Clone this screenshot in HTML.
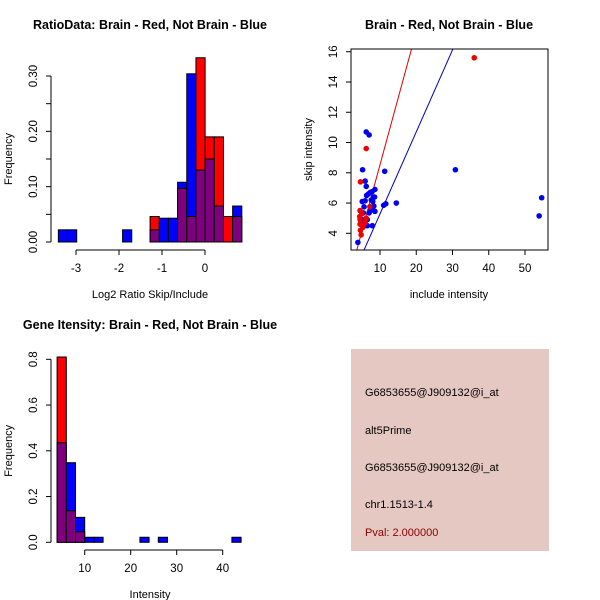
<!DOCTYPE html>
<html><head><meta charset="utf-8"><style>
html,body{margin:0;padding:0;background:#fff;}
svg{display:block;font-family:"Liberation Sans",Arial,sans-serif;}
</style></head><body>
<svg id="c" width="600" height="600" viewBox="0 0 600 600" xmlns="http://www.w3.org/2000/svg">
<rect x="0" y="0" width="600" height="600" fill="#fff"/>
<g id="p1"></g>
<g id="p2"></g>
<g id="p3"></g>
<g>
<rect x="351" y="349" width="198" height="202" fill="#e6c8c2"/>
<text x="365" y="396" font-size="11" fill="#000">G6853655@J909132@i_at</text>
<text x="365" y="434" font-size="11" fill="#000">alt5Prime</text>
<text x="365" y="471" font-size="11" fill="#000">G6853655@J909132@i_at</text>
<text x="365" y="508" font-size="11" fill="#000">chr1.1513-1.4</text>
<text x="365" y="536" font-size="11" fill="#8b0000">Pval: 2.000000</text>
</g>
</svg>
<script>
// Panel 1 data
const ratioBreakStart = -3.41, ratioBinWidth = 0.2133;
const ratioRed  = [0,0,0,0,0,0,0,0,0,0,0.046,0,0,0.097,0.046,0.333,0.19,0.19,0.046,0.046];
const ratioBlue = [0.022,0.022,0,0,0,0,0,0.022,0,0,0.022,0.043,0.043,0.108,0.304,0.13,0.15,0.065,0,0.065];
const ratioYTicks = [0,0.05,0.10,0.15,0.20,0.25,0.30];
const ratioYLabels = ["0.00","","0.10","","0.20","","0.30"];
const ratioXTicks = [-3,-2,-1,0];
// Panel 2 data
const redInclude = [36,6.2,4.6,4.5,4.4,4.5,4.6,4.8,4.5,6.2,5.9,7.2,5.0,5.3];
const redSkip    = [15.6,9.6,7.4,5.5,5.1,4.6,4.2,3.9,4.9,5.0,4.7,5.76,5.3,4.4];
const blueInclude = [3.9,6.2,7.0,5.2,11.3,30.8,14.5,11.6,11.0,54.6,53.9,7.9,6.5,5.9,6.2,8.6,8.5,5.1,5.9,5.6,6.3,6.8,7.3,7.8,7.6,8.0,8.3,7.5,8.6,7.0,5.4,5.1,6.5,5.2,7.9,8.2];
const blueSkip    = [3.4,10.7,10.5,8.2,8.1,8.2,6.0,5.95,5.85,6.35,5.15,4.5,4.5,7.45,7.1,6.9,6.4,6.1,6.15,5.75,6.5,6.6,6.7,6.75,6.2,6.1,5.8,5.55,5.45,5.35,5.35,4.9,4.9,4.6,5.55,6.4];
const redLine = [-0.27, 0.88];   // intercept, slope
const blueLine = [-0.14, 0.542];
const scatXTicks = [10,20,30,40,50];
const scatYTicks = [4,6,8,10,12,14,16];
// Panel 3 data
const geneBreakStart = 4, geneBinWidth = 2;
const geneRed  = [0.81,0.138,0.046,0,0,0,0,0,0,0,0,0,0,0,0,0,0,0,0,0];
const geneBlue = [0.435,0.348,0.109,0.022,0.022,0,0,0,0,0.022,0,0.022,0,0,0,0,0,0,0,0.022];
const geneYTicks = [0,0.2,0.4,0.6,0.8];
const geneYLabels = ["0.0","0.2","0.4","0.6","0.8"];
const geneXTicks = [10,20,30,40];

const NS="http://www.w3.org/2000/svg";
function mk(parent,tag,attrs,text){const e=document.createElementNS(NS,tag);for(const k in attrs)e.setAttribute(k,attrs[k]);if(text!==undefined)e.textContent=text;parent.appendChild(e);return e;}

function histogram(g, breakStart, bw, red, blue, xs, ys, yT, yL, xT, xAxisY, yAxisX, title, titleY, xlab, xlabY){
  const base=ys(0);
  for(let i=0;i<red.length;i++){
    const x0=xs(breakStart+i*bw), x1=xs(breakStart+(i+1)*bw);
    const r=red[i], b=blue[i];
    const lo=Math.min(r,b), hi=Math.max(r,b);
    if(hi>0){
      const col = r>b ? "#ff0000" : "#0000ff";
      const el=mk(g,"rect",{x:x0,y:ys(hi),width:x1-x0,height:base-ys(hi),fill:col,stroke:"#000","stroke-width":1});
      
      
    }
    if(lo>0){
      const el=mk(g,"rect",{x:x0,y:ys(lo),width:x1-x0,height:base-ys(lo),fill:"#7f007f",stroke:"#000","stroke-width":1});
      
      
    }
  }
  const ya=mk(g,"line",{x1:yAxisX,x2:yAxisX,y1:ys(yT[0]),y2:ys(yT[yT.length-1]),stroke:"#000"});
  
  
  yT.forEach((t,i)=>{
    mk(g,"line",{x1:yAxisX-5,x2:yAxisX,y1:ys(t),y2:ys(t),stroke:"#000"});
    if(yL[i]){const tx=mk(g,"text",{x:0,y:0,"font-size":11.5,"text-anchor":"middle",transform:`translate(${yAxisX-14},${ys(t)}) rotate(-90)`},yL[i]);
      
      }
  });
  const xa=mk(g,"line",{x1:xs(xT[0]),x2:xs(xT[xT.length-1]),y1:xAxisY,y2:xAxisY,stroke:"#000"});
  
  
  xT.forEach(t=>{
    mk(g,"line",{x1:xs(t),x2:xs(t),y1:xAxisY,y2:xAxisY+5,stroke:"#000"});
    const tx=mk(g,"text",{x:xs(t),y:xAxisY+22,"font-size":11.5,"text-anchor":"middle"},String(t));
    
    
  });
  const tt=mk(g,"text",{x:150,y:titleY,"font-size":12.5,"font-weight":"bold","text-anchor":"middle"},title);
  
  
  const xl=mk(g,"text",{x:150,y:xlabY,"font-size":11,"text-anchor":"middle"},xlab);
  
  
  const yl=mk(g,"text",{x:0,y:0,"font-size":11,"text-anchor":"middle",transform:`translate(12,${(ys(yT[0])+ys(yT[yT.length-1]))/2}) rotate(-90)`},"Frequency");
  
  
}

// Panel 1
(function(){
  const g=document.getElementById('p1');
  const xs=v=>205+v*43, ys=v=>242-v*553.3;
  histogram(g,ratioBreakStart,ratioBinWidth,ratioRed,ratioBlue,xs,ys,ratioYTicks,ratioYLabels,ratioXTicks,250,51,"RatioData: Brain - Red, Not Brain - Blue",29,"Log2 Ratio Skip/Include",298);
})();
// Panel 3
(function(){
  const g=document.getElementById('p3');
  const xs=v=>84.7+(v-10)*4.6, ys=v=>542.3-v*228.75;
  histogram(g,geneBreakStart,geneBinWidth,geneRed,geneBlue,xs,ys,geneYTicks,geneYLabels,geneXTicks,550,51,"Gene Itensity: Brain - Red, Not Brain - Blue",329,"Intensity",598);
})();
// Panel 2
(function(){
  const g=document.getElementById('p2');
  const xs=v=>380+(v-10)*3.625, ys=v=>233.3-(v-4)*15.13;
  const L=351,R=548,T=49,B=250;
  const cp=mk(g,"clipPath",{id:"clip2"});mk(cp,"rect",{x:L,y:T,width:R-L,height:B-T});
  const lg=mk(g,"g",{"clip-path":"url(#clip2)"});
  const ln=(c,col,name)=>{const x0=0,x1=60;const e=mk(lg,"line",{x1:xs(x0),y1:ys(c[0]+c[1]*x0),x2:xs(x1),y2:ys(c[0]+c[1]*x1),stroke:col,"stroke-width":1});
    
    };
  ln(redLine,"#dd0000","red-fit-line");
  ln(blueLine,"#0000bb","blue-fit-line");
  blueInclude.forEach((v,i)=>{const p=mk(lg,"circle",{cx:xs(v),cy:ys(blueSkip[i]),r:2.8,fill:"#0000ee"});
    
    });
  redInclude.forEach((v,i)=>{const p=mk(lg,"circle",{cx:xs(v),cy:ys(redSkip[i]),r:2.8,fill:"#ee0000"});
    
    });
  const box=mk(g,"rect",{x:L,y:T,width:R-L,height:B-T,fill:"none",stroke:"#000"});
  
  
  scatXTicks.forEach(t=>{mk(g,"line",{x1:xs(t),x2:xs(t),y1:B,y2:B+5,stroke:"#000"});
    const tx=mk(g,"text",{x:xs(t),y:B+22,"font-size":11.5,"text-anchor":"middle"},String(t));
    
    });
  scatYTicks.forEach(t=>{mk(g,"line",{x1:L-5,x2:L,y1:ys(t),y2:ys(t),stroke:"#000"});
    const tx=mk(g,"text",{x:0,y:0,"font-size":11.5,"text-anchor":"middle",transform:`translate(${L-14},${ys(t)}) rotate(-90)`},String(t));
    
    });
  const tt=mk(g,"text",{x:449,y:29,"font-size":12.5,"font-weight":"bold","text-anchor":"middle"},"Brain - Red, Not Brain - Blue");
  
  
  const xl=mk(g,"text",{x:449,y:298,"font-size":11,"text-anchor":"middle"},"include intensity");
  
  
  const yl=mk(g,"text",{x:0,y:0,"font-size":11,"text-anchor":"middle",transform:`translate(312,${(T+B)/2}) rotate(-90)`},"skip intensity");
  
  
})();
</script>
</body></html>
